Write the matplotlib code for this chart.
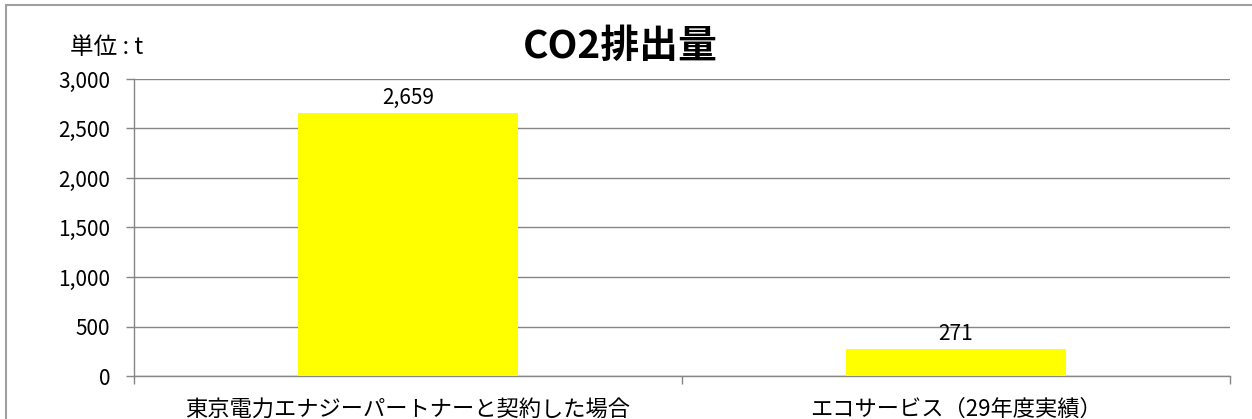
import matplotlib.pyplot as plt
from matplotlib.patches import Rectangle
from matplotlib.ticker import FuncFormatter

plt.rcParams["font.family"] = ["Noto Sans CJK JP", "DejaVu Sans"]

categories = ["東京電力エナジーパートナーと契約した場合", "エコサービス（29年度実績）"]
emissions = [2659, 271]
yticks = [0, 500, 1000, 1500, 2000, 2500, 3000]

GRID = "#868686"

fig = plt.figure(figsize=(12.52, 4.19), dpi=100)
# outer chart frame (cropped at right/bottom like the original)
fig.patches.append(Rectangle((6 / 1252, -0.2), 1.2, 1.2 - 5 / 419,
                             transform=fig.transFigure, fill=False,
                             edgecolor="#a0a0a0", linewidth=1.5))

ax = fig.add_axes([134 / 1252, 1 - 376 / 419, (1230 - 134) / 1252, (376 - 79) / 419])
x = range(len(categories))
bars = ax.bar(x, emissions, width=0.4, color="#ffff00", zorder=3)
ax.set_xlim(-0.5, len(categories) - 0.5)
ax.set_ylim(0, 3000)
ax.set_yticks(yticks)
ax.yaxis.set_major_formatter(FuncFormatter(lambda v, p: f"{int(v):,}"))
ax.grid(axis="y", color=GRID, linewidth=1, zorder=0)

ax.set_xticks([-0.5, 0.5, 1.5])
ax.set_xticklabels([])
ax.set_xticks(list(x), minor=True)
ax.set_xticklabels(categories, minor=True, fontsize=16)
ax.tick_params(axis="x", which="minor", length=0, pad=16)
ax.tick_params(axis="x", which="major", length=6, color=GRID, width=1)
ax.tick_params(axis="y", length=6, color=GRID, width=1, labelsize=15, pad=11)

for s in ("top", "right"):
    ax.spines[s].set_visible(False)
for s in ("left", "bottom"):
    ax.spines[s].set_color(GRID)
    ax.spines[s].set_linewidth(1)

for b, v in zip(bars, emissions):
    ax.annotate(f"{v:,}", (b.get_x() + b.get_width() / 2, v), xytext=(0, 3),
                textcoords="offset points", ha="center", va="bottom", fontsize=15)

fig.text(620 / 1252, 1 - 46 / 419, "CO2排出量", ha="center", va="center",
         fontsize=28, fontweight="bold")
fig.text(70 / 1252, 1 - 48 / 419, "単位 : t", ha="left", va="center", fontsize=17)

fig.savefig("out.png", dpi=100)
